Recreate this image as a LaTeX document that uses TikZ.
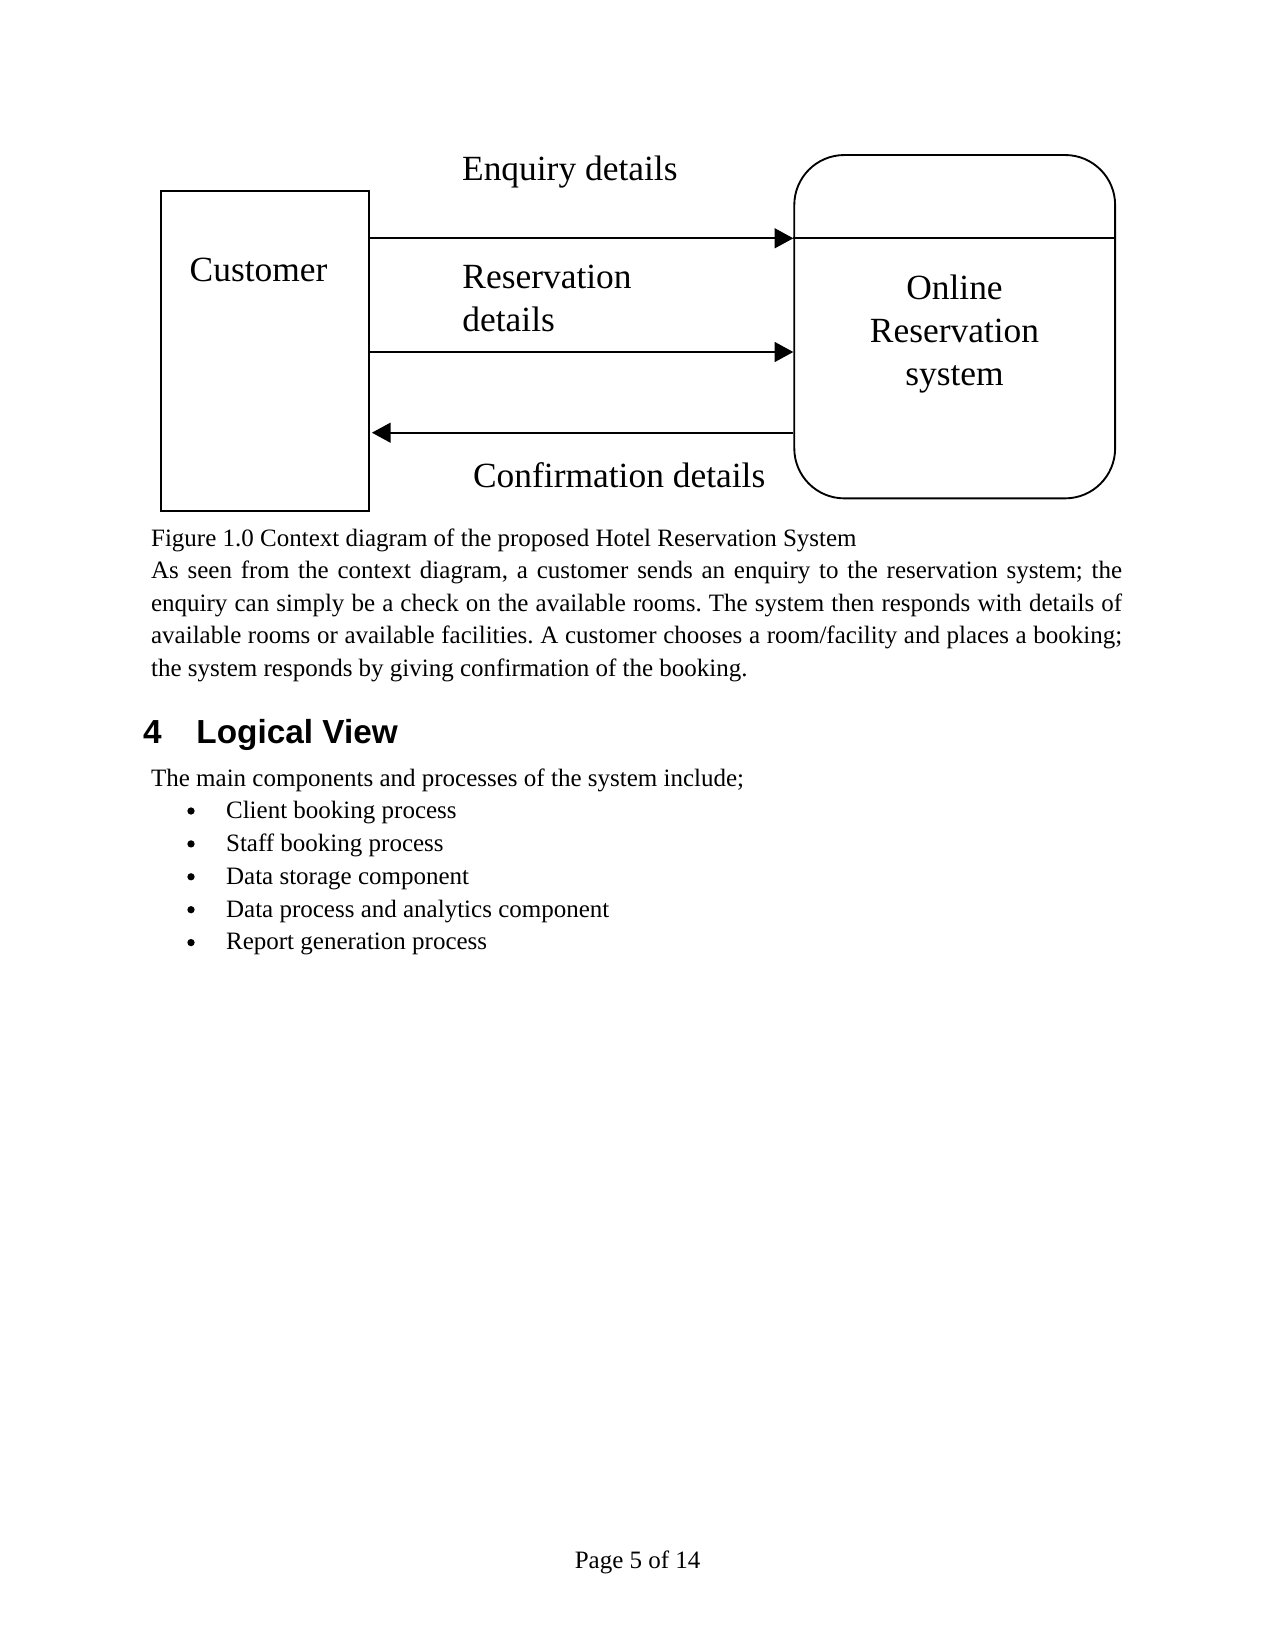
\documentclass[tikz,border=0pt]{standalone}
\usepackage{fontspec}
\setmainfont{Liberation Serif}
\newfontfamily\headfont{Liberation Sans}
\usetikzlibrary{arrows.meta}
\frenchspacing
\tikzset{
  external/.style = {rectangle, draw, line width=1.1pt, minimum width=99.8pt, minimum height=153.6pt, inner sep=0},
  process/.style  = {rectangle, draw, line width=0.9pt, rounded corners=24pt, minimum width=154pt, minimum height=164.8pt, inner sep=0},
  flow/.style     = {line width=1pt, -{Triangle[length=9pt, width=9.5pt]}},
  divide/.style   = {line width=0.9pt},
  lbl/.style      = {inner sep=0, font=\fontsize{17}{20.8}\selectfont},
  body/.style     = {anchor=base west, inner sep=0, font=\fontsize{12}{14}\selectfont},
  head/.style     = {anchor=base west, inner sep=0, font=\headfont\bfseries\fontsize{16}{19}\selectfont},
  itemdot/.style  = {circle, fill=black, inner sep=0, minimum size=3.5pt}
}

\begin{document}
\begin{tikzpicture}[x=0.48pt, y=-0.48pt]
  \useasboundingbox (0,0) rectangle (1275,1650);
  % diagramma di contesto
  \node[external] (cust) at (264.7,350.7) {};
  \node[process] (sys) at (954.7,326.7) {};
  \node[lbl, anchor=base west] (custt) at (189.3,281.7) {Customer};
  \node[lbl, anchor=base, align=center] (syst) at (954.5,386) {Online\\Reservation\\system};
  \coordinate (yenq) at (0,238.3);
  \coordinate (yres) at (0,352);
  \coordinate (yconf) at (0,432.7);
  \draw[divide] (sys.west |- yenq) -- (sys.east |- yenq);
  \draw[flow] (cust.east |- yenq) -- (sys.west |- yenq);
  \draw[flow] (cust.east |- yres) -- (sys.west |- yres);
  \draw[flow, shorten >=1pt] (sys.west |- yconf) -- (cust.east |- yconf);
  \node[lbl, anchor=base west] (enq) at (461.7,180.7) {Enquiry details};
  \node[lbl, anchor=base west, align=left] (res) at (462,331.5) {Reservation\\details};
  \node[lbl, anchor=base west] (conf) at (472.7,487.3) {Confirmation details};

  % testo della pagina
  \node[body] (cap) at (150.7,546) {Figure 1.0 Context diagram of the proposed Hotel Reservation System};
  \node[body] (p1) at (150.7,578.5) {\makebox[466.1pt][s]{As seen from the context diagram, a customer sends an enquiry to the reservation system; the}};
  \node[body] (p2) at (150.7,611) {\makebox[466.1pt][s]{enquiry can simply be a check on the available rooms. The system then responds with details of}};
  \node[body] (p3) at (150.7,643.5) {\makebox[466.1pt][s]{available rooms or available facilities. A customer chooses a room/facility and places a booking;}};
  \node[body] (p4) at (150.7,676) {the system responds by giving confirmation of the booking.};
  \node[head] (hnum) at (142.7,743.3) {4};
  \node[head] (htit) at (196,743.3) {Logical View};
  \node[body] (intro) at (150.7,786) {The main components and processes of the system include;};
  \foreach \t [count=\i] in {Client booking process, Staff booking process, Data storage component, Data process and analytics component, Report generation process}{
    \node[itemdot] (dot\i) at (191,{811+32.9*(\i-1)}) {};
    \node[body] (item\i) at (225.7,{818.3+32.9*(\i-1)}) {\t};
  }
  \node[body, anchor=base] (pag) at (637.6,1568) {Page 5 of 14};
\end{tikzpicture}
\end{document}
